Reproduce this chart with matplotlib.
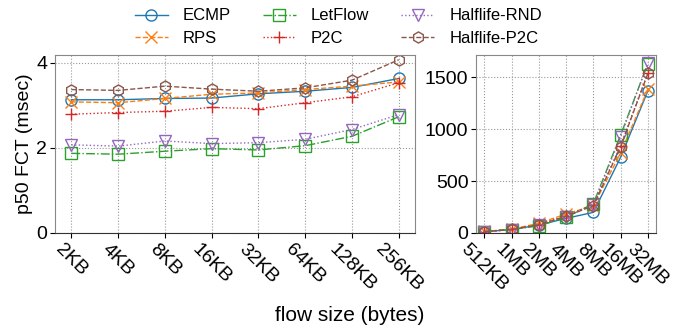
import matplotlib.pyplot as plt

plt.rcParams['font.family'] = ['Liberation Sans', 'DejaVu Sans']
plt.rcParams['font.size'] = 14

schemes = ['ECMP', 'RPS', 'LetFlow', 'P2C', 'Halflife-RND', 'Halflife-P2C']
colors = ['C0', 'C1', 'C2', 'C3', 'C4', 'C5']
markers = ['o', 'x', 's', '+', 'v', 'h']
styles = ['-', '--', '-.', ':', ':', '--']

small_sizes = ['2KB', '4KB', '8KB', '16KB', '32KB', '64KB', '128KB', '256KB']
large_sizes = ['512KB', '1MB', '2MB', '4MB', '8MB', '16MB', '32MB']

# p50 FCT (msec), small flows
small_ecmp = [3.13, 3.13, 3.16, 3.17, 3.27, 3.33, 3.42, 3.63]
small_rps = [3.08, 3.06, 3.16, 3.26, 3.29, 3.37, 3.45, 3.55]
small_letflow = [1.87, 1.85, 1.92, 1.98, 1.95, 2.05, 2.27, 2.73]
small_p2c = [2.79, 2.83, 2.86, 2.95, 2.92, 3.06, 3.20, 3.53]
small_hl_rnd = [2.07, 2.04, 2.16, 2.10, 2.12, 2.20, 2.43, 2.78]
small_hl_p2c = [3.37, 3.35, 3.45, 3.38, 3.33, 3.41, 3.59, 4.07]

# p50 FCT (msec), large flows
large_ecmp = [12, 32, 75, 140, 198, 730, 1371]
large_rps = [14, 36, 92, 182, 262, 770, 1385]
large_letflow = [12, 32, 68, 150, 282, 945, 1634]
large_p2c = [12, 33, 80, 165, 268, 840, 1545]
large_hl_rnd = [12, 32, 76, 158, 272, 929, 1640]
large_hl_p2c = [12, 33, 78, 160, 262, 833, 1538]

small = [small_ecmp, small_rps, small_letflow, small_p2c, small_hl_rnd, small_hl_p2c]
large = [large_ecmp, large_rps, large_letflow, large_p2c, large_hl_rnd, large_hl_p2c]

fig = plt.figure(figsize=(6.82, 3.28), dpi=100)
ax1 = fig.add_axes([0.0806, 0.290, 0.528, 0.542])
ax2 = fig.add_axes([0.698, 0.290, 0.264, 0.542])

for i in range(len(schemes)):
    ax1.plot(range(len(small_sizes)), small[i], color=colors[i], marker=markers[i],
             linestyle=styles[i], linewidth=1, markersize=8,
             markerfacecolor='none', label=schemes[i])
    ax2.plot(range(len(large_sizes)), large[i], color=colors[i], marker=markers[i],
             linestyle=styles[i], linewidth=1, markersize=8,
             markerfacecolor='none')

ax1.set_ylim(0, 4.18)
ax1.set_yticks([0, 2, 4])
ax1.set_xticks(range(len(small_sizes)))
ax1.set_xticklabels(small_sizes, rotation=-45)
ax1.set_ylabel('p50 FCT (msec)', fontsize=14)
ax1.yaxis.set_label_coords(-0.062, 0.5)

ax2.set_ylim(0, 1715)
ax2.set_yticks([0, 500, 1000, 1500])
ax2.set_xticks(range(len(large_sizes)))
ax2.set_xticklabels(large_sizes, rotation=-45)

for ax in (ax1, ax2):
    ax.grid(True, linestyle=':', color='#999999', linewidth=0.8)
    ax.tick_params(labelsize=14, pad=2)
    for s in ax.spines.values():
        s.set_color('#888888')
    ax.spines['bottom'].set_color('#333333')

fig.text(0.513, 0.037, 'flow size (bytes)', ha='center', va='center', fontsize=15)
fig.legend(loc='upper center', bbox_to_anchor=(0.496, 1.02), ncol=3,
           frameon=False, fontsize=12, handlelength=2.0, handletextpad=0.9,
           columnspacing=1.9, labelspacing=0.45)

fig.savefig('out.png', dpi=100)
